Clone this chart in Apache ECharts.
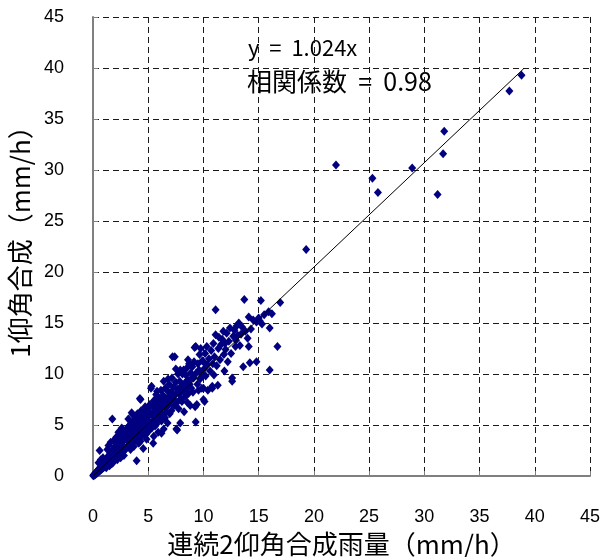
<!DOCTYPE html>
<html>
<head>
<meta charset="utf-8">
<script src="https://cdn.jsdelivr.net/npm/echarts@6/dist/echarts.min.js"></script>
<style>
html,body{margin:0;padding:0;background:#fff;}
#main{width:606px;height:557px;}
</style>
</head>
<body>
<div id="main"></div>
<script>
// Axis ticks
var xTicks = [0,5,10,15,20,25,30,35,40,45];
var yTicks = [0,5,10,15,20,25,30,35,40,45];

// Scatter points [連続2仰角合成雨量, 1仰角合成] (mm/h)
var pts0to1 = [[0.02,0.03],[0.05,0.1],[0.08,0.05],[0.1,0.15],[0.12,0.1],[0.15,0.2],[0.18,0.12],[0.2,0.25],[0.22,0.18],[0.25,0.3],[0.28,0.22],[0.3,0.38],[0.32,0.28],[0.35,0.42],[0.38,0.3],[0.4,0.5],[0.42,0.36],[0.45,0.55],[0.48,0.4],[0.5,0.62],[0.52,0.45],[0.55,0.7],[0.58,0.5],[0.6,0.78],[0.62,0.55],[0.65,0.82],[0.68,0.6],[0.7,0.9],[0.72,0.62],[0.75,0.95],[0.78,0.68],[0.8,1.05],[0.82,0.72],[0.85,1.1],[0.88,0.78],[0.9,1.2],[0.92,0.8],[0.95,1.25],[0.98,0.85],[1.0,1.3],[0.6,2.5],[0.7,1.6],[0.5,1.3],[0.9,1.8]];
var pts1to2 = [[1.02,0.9],[1.05,1.4],[1.1,0.95],[1.12,1.5],[1.15,1.05],[1.2,1.6],[1.22,1.1],[1.25,1.75],[1.3,1.2],[1.32,1.85],[1.35,1.25],[1.4,1.95],[1.42,1.3],[1.45,2.0],[1.5,1.35],[1.52,2.1],[1.55,1.45],[1.6,2.25],[1.62,1.5],[1.65,2.35],[1.7,1.55],[1.72,2.4],[1.75,1.6],[1.8,2.55],[1.82,1.65],[1.85,2.6],[1.9,1.7],[1.92,2.8],[1.95,1.8],[2.0,2.9],[1.4,3.0],[1.75,5.6],[1.5,1.0],[1.8,1.3],[1.3,2.6],[1.6,3.3],[1.9,3.5],[1.2,0.8],[1.7,1.2]];
var pts2to3 = [[2.02,1.75],[2.05,2.4],[2.1,1.85],[2.12,2.95],[2.15,2.2],[2.2,3.1],[2.22,1.9],[2.25,2.6],[2.3,3.3],[2.32,2.0],[2.35,2.8],[2.4,3.5],[2.42,2.1],[2.45,2.9],[2.5,3.7],[2.52,2.2],[2.55,3.1],[2.6,4.0],[2.62,2.3],[2.65,3.3],[2.7,4.2],[2.72,2.4],[2.75,3.4],[2.8,3.9],[2.82,2.5],[2.85,3.6],[2.9,4.4],[2.92,2.6],[2.95,3.7],[2.6,4.7],[2.3,4.3],[2.1,3.8],[2.5,1.8],[2.8,2.0],[2.2,1.6]];
var pts3to4 = [[3.0,2.7],[3.02,3.9],[3.05,4.6],[3.1,2.9],[3.12,3.5],[3.15,4.1],[3.2,4.8],[3.22,3.0],[3.25,3.7],[3.3,4.3],[3.32,5.0],[3.35,3.1],[3.4,3.9],[3.45,4.5],[3.5,6.2],[3.48,5.2],[3.55,3.3],[3.6,4.1],[3.62,4.8],[3.65,5.4],[3.7,3.4],[3.72,4.3],[3.75,5.0],[3.8,3.6],[3.82,4.5],[3.85,5.7],[3.9,4.0],[3.92,4.8],[3.95,1.5],[3.98,3.7],[3.4,2.6],[3.7,2.9],[3.2,5.6],[3.6,6.0]];
var pts4to5 = [[4.0,5.3],[4.02,6.1],[4.05,3.8],[4.1,4.5],[4.12,5.0],[4.15,3.2],[4.2,5.6],[4.22,4.2],[4.25,7.6],[4.3,7.5],[4.32,4.8],[4.35,6.4],[4.4,3.9],[4.42,5.3],[4.45,5.9],[4.5,4.4],[4.52,5.0],[4.55,2.7],[4.6,6.2],[4.62,4.6],[4.65,5.6],[4.7,4.0],[4.72,6.8],[4.75,5.2],[4.8,4.7],[4.82,6.0],[4.85,3.6],[4.9,5.5],[4.92,6.6],[4.95,4.9],[4.3,3.4],[4.8,4.1]];
var pts5to6 = [[5.0,5.8],[5.05,4.4],[5.1,6.3],[5.15,7.0],[5.2,5.2],[5.25,8.6],[5.3,8.8],[5.32,4.7],[5.35,6.0],[5.4,6.8],[5.45,3.2],[5.5,5.5],[5.52,7.4],[5.55,6.2],[5.6,7.3],[5.62,4.9],[5.65,5.8],[5.7,6.6],[5.72,8.0],[5.75,5.1],[5.8,6.3],[5.85,7.1],[5.9,4.3],[5.92,5.7],[5.95,6.9],[5.5,3.9],[5.8,8.3]];
var pts6to7 = [[6.0,7.6],[6.05,5.9],[6.1,6.6],[6.15,8.4],[6.2,5.4],[6.25,7.2],[6.3,6.1],[6.35,7.9],[6.4,4.6],[6.45,6.8],[6.5,7.7],[6.52,5.7],[6.55,8.6],[6.6,7.0],[6.65,6.3],[6.7,8.4],[6.72,7.4],[6.75,5.2],[6.8,6.9],[6.85,7.8],[6.9,9.0],[6.95,6.1],[6.4,9.3],[6.8,9.5],[6.2,4.2]];
var pts7to8 = [[7.0,7.3],[7.05,8.2],[7.1,6.4],[7.15,9.6],[7.2,11.7],[7.25,7.6],[7.3,8.7],[7.35,6.9],[7.4,11.7],[7.45,8.0],[7.5,9.2],[7.55,4.6],[7.6,7.2],[7.62,4.5],[7.65,8.5],[7.7,10.0],[7.75,6.6],[7.8,8.1],[7.85,9.3],[7.9,5.2],[7.95,7.6],[7.5,10.5],[7.9,10.4]];
var pts8to9 = [[8.0,8.8],[8.05,7.3],[8.1,10.0],[8.15,8.3],[8.2,10.4],[8.25,6.3],[8.3,9.1],[8.35,7.8],[8.4,9.9],[8.45,8.6],[8.5,10.6],[8.55,7.2],[8.6,9.4],[8.65,8.1],[8.7,11.0],[8.75,9.0],[8.8,6.9],[8.85,10.1],[8.9,8.6],[8.95,9.6],[8.6,11.4]];
var pts9to10 = [[9.0,10.7],[9.05,8.2],[9.1,9.6],[9.15,11.2],[9.2,12.6],[9.25,6.8],[9.3,12.7],[9.3,5.3],[9.35,10.1],[9.4,7.0],[9.45,9.0],[9.5,11.0],[9.55,8.4],[9.6,10.4],[9.65,11.9],[9.7,9.5],[9.75,12.5],[9.8,10.0],[9.85,8.6],[9.9,11.3],[9.95,9.9]];
var pts10to11 = [[10.0,11.2],[10.0,8.6],[10.0,7.5],[10.05,10.5],[10.1,7.3],[10.15,12.0],[10.2,9.8],[10.3,12.7],[10.35,10.9],[10.4,8.4],[10.5,11.5],[10.6,10.3],[10.7,12.3],[10.8,8.6],[10.8,8.8],[10.85,11.0],[10.9,13.0],[10.95,9.9]];
var pts11to12 = [[11.0,11.7],[11.1,13.85],[11.1,16.3],[11.2,10.8],[11.3,8.9],[11.35,12.5],[11.4,13.6],[11.5,11.4],[11.6,12.9],[11.7,13.4],[11.8,14.2],[11.85,11.9],[11.9,10.3],[11.95,13.0]];
var pts12to13 = [[12.0,12.4],[12.1,14.0],[12.2,11.2],[12.3,13.2],[12.4,14.5],[12.5,12.0],[12.6,9.3],[12.6,9.6],[12.7,13.7],[12.8,14.3],[12.9,12.7],[13.0,14.7],[12.95,13.3]];
var pts13to17 = [[13.1,13.8],[13.2,15.0],[13.3,12.8],[13.4,13.9],[13.5,14.6],[13.6,10.7],[13.7,17.3],[13.8,14.2],[14.0,13.5],[14.1,15.6],[14.1,12.7],[14.2,11.1],[14.3,14.4],[14.5,15.3],[14.8,11.2],[14.8,15.1],[15.0,15.5],[15.1,15.2],[15.2,17.2],[15.3,14.9],[15.5,15.8],[15.9,16.1],[16.0,14.5],[16.0,10.4],[16.2,15.9],[16.7,12.7],[16.95,17.0]];
var ptsHigh = [[19.3,22.2],[22.0,30.5],[25.3,29.2],[25.8,27.8],[28.9,30.2],[31.2,27.6],[31.7,31.6],[31.8,33.8],[37.7,37.75],[38.8,39.3]];

// Regression line y = 1.024x
var slope = 1.024;
var lineXs = [0, 39];

var eqText = 'y  =  1.024x';
var corrText = '相関係数  =  0.98';
var xName = '連続2仰角合成雨量（mm/h）';
var yName = '1仰角合成（mm/h）';

var allPts = [].concat(pts0to1, pts1to2, pts2to3, pts3to4, pts4to5, pts5to6, pts6to7, pts7to8, pts8to9, pts9to10, pts10to11, pts11to12, pts12to13, pts13to17, ptsHigh);
var linePts = lineXs.map(function(x){ return [x, slope * x]; });

var numFont = '"Liberation Sans", Arial, sans-serif';
var jpFont = '"Noto Sans CJK JP", sans-serif';

var chart = echarts.init(document.getElementById('main'), null, {renderer: 'canvas'});
chart.setOption({
  animation: false,
  backgroundColor: '#ffffff',
  grid: {left: 93, right: 16, top: 17, bottom: 81, containLabel: false, outerBoundsMode: 'none'},
  xAxis: {
    type: 'value', min: xTicks[0], max: xTicks[xTicks.length - 1], interval: xTicks[1] - xTicks[0],
    name: xName, nameLocation: 'middle', nameGap: 52,
    nameTextStyle: {fontFamily: jpFont, fontSize: 26, color: '#000'},
    axisLine: {show: true, onZero: false, lineStyle: {color: '#808080', width: 2}},
    axisTick: {show: true, inside: true, length: 5, lineStyle: {color: '#808080'}},
    axisLabel: {margin: 32, fontFamily: numFont, fontSize: 18, color: '#000'},
    splitLine: {show: true, lineStyle: {color: '#1a1a1a', type: [6, 4], width: 1}}
  },
  yAxis: {
    type: 'value', min: yTicks[0], max: yTicks[yTicks.length - 1], interval: yTicks[1] - yTicks[0],
    name: yName, nameLocation: 'middle', nameGap: 52, nameRotate: 90,
    nameTextStyle: {fontFamily: jpFont, fontSize: 26, color: '#000', padding: [0, 0, 0, 22]},
    axisLine: {show: true, onZero: false, lineStyle: {color: '#808080', width: 2}},
    axisTick: {show: true, inside: true, length: 5, lineStyle: {color: '#808080'}},
    axisLabel: {margin: 29, fontFamily: numFont, fontSize: 18, color: '#000'},
    splitLine: {show: true, lineStyle: {color: '#1a1a1a', type: [6, 4], width: 1}}
  },
  graphic: [
    {type: 'text', left: 248, top: 37, style: {text: eqText, font: '22px ' + jpFont, fill: '#000'}},
    {type: 'text', left: 247, top: 69, style: {text: corrText, font: '25px ' + jpFont, fill: '#000'}}
  ],
  series: [
    {
      type: 'scatter', data: allPts, symbol: 'diamond', symbolSize: [8, 9],
      itemStyle: {color: '#000080', opacity: 1}, z: 2
    },
    {
      type: 'line', data: linePts, showSymbol: false, symbol: 'none',
      lineStyle: {color: '#000', width: 1}, z: 3
    }
  ]
});
</script>
</body>
</html>
